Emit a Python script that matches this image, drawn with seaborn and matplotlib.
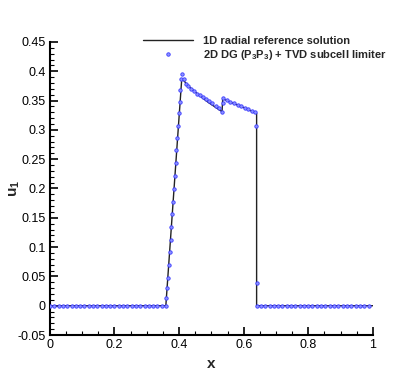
import matplotlib
matplotlib.use("Agg")
import matplotlib.pyplot as plt
from matplotlib.lines import Line2D
from matplotlib.ticker import MultipleLocator
import seaborn as sns
import pandas as pd

# 1D radial reference solution (polyline vertices)
ref_x = [0.0, 0.359, 0.408, 0.413, 0.43, 0.46, 0.49, 0.533, 0.535, 0.56, 0.60, 0.640, 0.640, 1.0]
ref_y = [0.0, 0.0, 0.385, 0.385, 0.374, 0.360, 0.347, 0.331, 0.353, 0.347, 0.338, 0.328, 0.0, 0.0]

# 2D DG (P3P3) + TVD subcell limiter samples
dg_x = [0.0, 0.013, 0.027, 0.04, 0.053, 0.067, 0.08, 0.093, 0.107, 0.12, 0.133, 0.147, 0.16, 0.173,
        0.187, 0.2, 0.213, 0.227, 0.24, 0.253, 0.267, 0.28, 0.293, 0.307, 0.32, 0.333, 0.347, 0.36,
        0.361, 0.364, 0.366, 0.369, 0.372, 0.374, 0.376, 0.379, 0.382, 0.384, 0.386, 0.389, 0.392,
        0.395, 0.397, 0.399, 0.402, 0.404, 0.407, 0.409, 0.414, 0.420,
        0.429, 0.438, 0.447, 0.456, 0.466, 0.475, 0.484, 0.493, 0.503, 0.513, 0.523, 0.533,
        0.535, 0.537, 0.548, 0.559, 0.570, 0.581, 0.592, 0.603, 0.614, 0.625, 0.636,
        0.639, 0.640,
        0.640, 0.653, 0.667, 0.68, 0.693, 0.707, 0.72, 0.733, 0.747, 0.76, 0.773, 0.787, 0.8, 0.813,
        0.827, 0.84, 0.853, 0.867, 0.88, 0.893, 0.907, 0.92, 0.933, 0.947, 0.96, 0.973, 0.987]
dg_y = [0.0] * 28 + [
        0.013, 0.030, 0.048, 0.070, 0.091, 0.112, 0.134, 0.156, 0.177, 0.199, 0.221, 0.243, 0.265,
        0.286, 0.307, 0.328, 0.348, 0.368, 0.386, 0.395, 0.386, 0.379,
        0.374, 0.370, 0.366, 0.362, 0.359, 0.356, 0.352, 0.349, 0.345, 0.341, 0.338, 0.331,
        0.346, 0.354, 0.351, 0.348, 0.345, 0.342, 0.340, 0.337, 0.335, 0.332, 0.330,
        0.306, 0.039] + [0.0] * 27

ref_label = "1D radial reference solution"
dg_label = r"2D DG (P$_\mathbf{3}$P$_\mathbf{3}$) + TVD subcell limiter"
x_label = "x"
y_label = r"u$_\mathbf{1}$"
x_ticks = [0, 0.2, 0.4, 0.6, 0.8, 1]
y_ticks = [-0.05, 0, 0.05, 0.1, 0.15, 0.2, 0.25, 0.3, 0.35, 0.4, 0.45]

sns.set_style("ticks")
plt.rcParams["font.family"] = ["Liberation Sans", "DejaVu Sans"]
plt.rcParams["mathtext.fontset"] = "custom"
plt.rcParams["mathtext.rm"] = "Liberation Sans"
plt.rcParams["mathtext.bf"] = "Liberation Sans:bold"

ref_df = pd.DataFrame({"x": ref_x, "y": ref_y})
dg_df = pd.DataFrame({"x": dg_x, "y": dg_y})

fig = plt.figure(figsize=(4.19, 3.71), dpi=100)
ax = fig.add_axes([0.119, 0.097, 0.771, 0.790])

line_color = "#222222"
mk_face = "#8c92ff"
mk_edge = "#3a3aff"

sns.lineplot(data=ref_df, x="x", y="y", sort=False, estimator=None, ax=ax,
             color=line_color, linewidth=1.0, zorder=2)
sns.scatterplot(data=dg_df, x="x", y="y", ax=ax, marker="o", s=6,
                facecolor=mk_face, edgecolor=mk_edge, linewidth=0.6, zorder=3)

ax.set_xlim(0, 1)
ax.set_ylim(-0.05, 0.45)
ax.set_xticks(x_ticks)
ax.set_xticklabels(["0", "0.2", "0.4", "0.6", "0.8", "1"])
ax.set_yticks(y_ticks)
ax.set_yticklabels(["-0.05", "0", "0.05", "0.1", "0.15", "0.2", "0.25", "0.3", "0.35", "0.4", "0.45"])
ax.xaxis.set_minor_locator(MultipleLocator(0.05))
ax.yaxis.set_minor_locator(MultipleLocator(0.01))
ax.tick_params(which="major", direction="in", length=6, width=1.2, labelsize=9, color="black",
               labelcolor="black", pad=3)
ax.tick_params(which="minor", direction="in", length=3, width=0.8, color="black")
for s in ["top", "right"]:
    ax.spines[s].set_visible(False)
for s in ["left", "bottom"]:
    ax.spines[s].set_linewidth(1.5)
    ax.spines[s].set_color("black")

ax.set_xlabel(x_label, fontsize=11, fontweight="bold", labelpad=4)
ax.set_ylabel(y_label, fontsize=11, fontweight="bold")
ax.yaxis.set_label_coords(-0.085, 0.5)

handles = [
    Line2D([0], [0], color=line_color, linewidth=1.0),
    Line2D([0], [0], linestyle="none", marker="o", markersize=2.5, markerfacecolor=mk_face,
           markeredgecolor=mk_edge, markeredgewidth=0.6),
]
leg = fig.legend(handles, [ref_label, dg_label], loc="upper left",
                 bbox_to_anchor=(0.328, 0.918), frameon=False, handlelength=4.5,
                 handletextpad=0.9, labelspacing=0.15, borderpad=0,
                 prop={"family": ["Liberation Sans", "DejaVu Sans"], "weight": "bold", "size": 8})

fig.savefig("out.png", dpi=100)
